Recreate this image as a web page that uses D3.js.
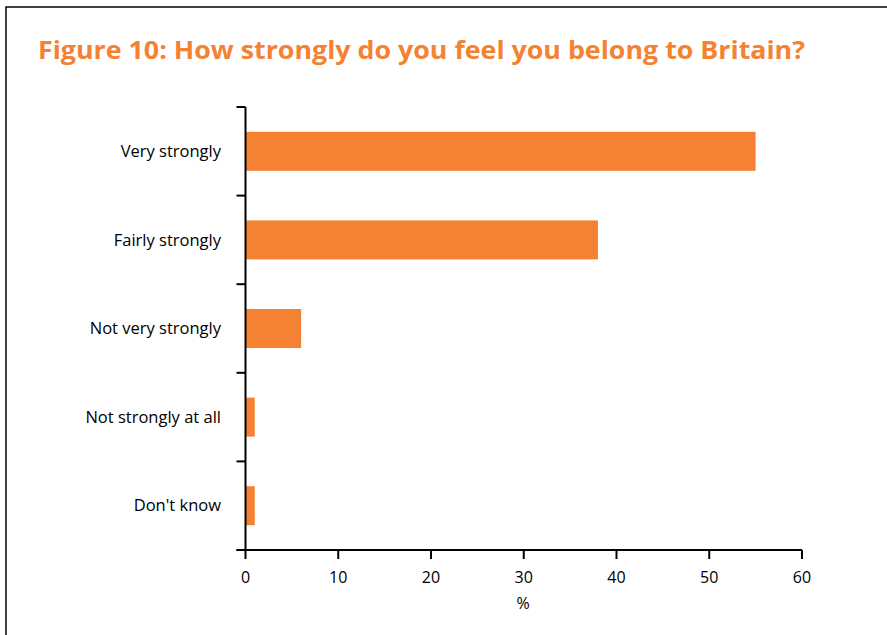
<!DOCTYPE html>
<html>
<head>
<meta charset="utf-8">
<script src="https://cdn.jsdelivr.net/npm/d3@7"></script>
<style>
  body { margin: 0; background: #fff; }
  text { font-family: "Open Sans", "Noto Sans", sans-serif; }
</style>
</head>
<body>
<div id="chart"></div>
<script>
// chart data
var categories = ["Very strongly", "Fairly strongly", "Not very strongly", "Not strongly at all", "Don't know"];
var values = [55, 38, 6, 1, 1];
var xTicks = [0, 10, 20, 30, 40, 50, 60];

var width = 887,
    height = 635;

var svg = d3.select("#chart")
    .append("svg")
    .attr("width", width)
    .attr("height", height);

// frame round the figure
svg.append("path")
    .attr("d", "M6,635 V7 H887")
    .attr("fill", "none")
    .attr("stroke", "#000")
    .attr("stroke-width", 1.5);

// title
svg.append("text")
    .attr("x", 38)
    .attr("y", 59)
    .attr("fill", "#f58233")
    .attr("font-weight", "bold")
    .attr("font-size", 25)
    .attr("textLength", 767)
    .attr("lengthAdjust", "spacingAndGlyphs")
    .text("Figure 10: How strongly do you feel you belong to Britain?");

var plotLeft = 245.5, plotRight = 802, plotTop = 107, plotBottom = 550;

var x = d3.scaleLinear().domain([0, 60]).range([plotLeft, plotRight]);
var y = d3.scaleBand()
    .domain(categories)
    .range([plotTop, plotBottom])
    .paddingInner(0.56)
    .paddingOuter(0.28);

var data = categories.map(function (c, i) {
    return { label: c, value: values[i] };
});

// bars
svg.selectAll("rect.bar")
    .data(data)
    .enter()
    .append("rect")
    .attr("class", "bar")
    .attr("x", x(0))
    .attr("y", function (d) { return y(d.label); })
    .attr("width", function (d) { return x(d.value) - x(0); })
    .attr("height", y.bandwidth())
    .attr("fill", "#f58233");

// y axis line and ticks at band edges
var step = y.step();
var edges = d3.range(categories.length + 1).map(function (i) { return plotTop + i * step; });
svg.append("line")
    .attr("x1", plotLeft).attr("x2", plotLeft)
    .attr("y1", plotTop).attr("y2", plotBottom)
    .attr("stroke", "#000").attr("stroke-width", 2);
svg.selectAll("line.ytick")
    .data(edges)
    .enter()
    .append("line")
    .attr("class", "ytick")
    .attr("x1", plotLeft - 9).attr("x2", plotLeft)
    .attr("y1", function (d) { return d; })
    .attr("y2", function (d) { return d; })
    .attr("stroke", "#000").attr("stroke-width", 2);

// category labels
svg.selectAll("text.ylabel")
    .data(data)
    .enter()
    .append("text")
    .attr("class", "ylabel")
    .attr("x", 221)
    .attr("y", function (d) { return y(d.label) + y.bandwidth() / 2; })
    .attr("dy", "0.35em")
    .attr("text-anchor", "end")
    .attr("font-size", 16.5)
    .attr("fill", "#000")
    .text(function (d) { return d.label; });

// x axis
svg.append("line")
    .attr("x1", plotLeft - 9).attr("x2", plotRight)
    .attr("y1", plotBottom).attr("y2", plotBottom)
    .attr("stroke", "#000").attr("stroke-width", 2);
svg.selectAll("line.xtick")
    .data(xTicks)
    .enter()
    .append("line")
    .attr("class", "xtick")
    .attr("x1", function (d) { return x(d); })
    .attr("x2", function (d) { return x(d); })
    .attr("y1", plotBottom).attr("y2", plotBottom + 9)
    .attr("stroke", "#000").attr("stroke-width", 2);
svg.selectAll("text.xlabel")
    .data(xTicks)
    .enter()
    .append("text")
    .attr("class", "xlabel")
    .attr("x", function (d) { return x(d); })
    .attr("y", 583)
    .attr("text-anchor", "middle")
    .attr("font-size", 16)
    .text(function (d) { return d; });

svg.append("text")
    .attr("x", 523)
    .attr("y", 609)
    .attr("text-anchor", "middle")
    .attr("font-size", 16)
    .text("%");
</script>
</body>
</html>
